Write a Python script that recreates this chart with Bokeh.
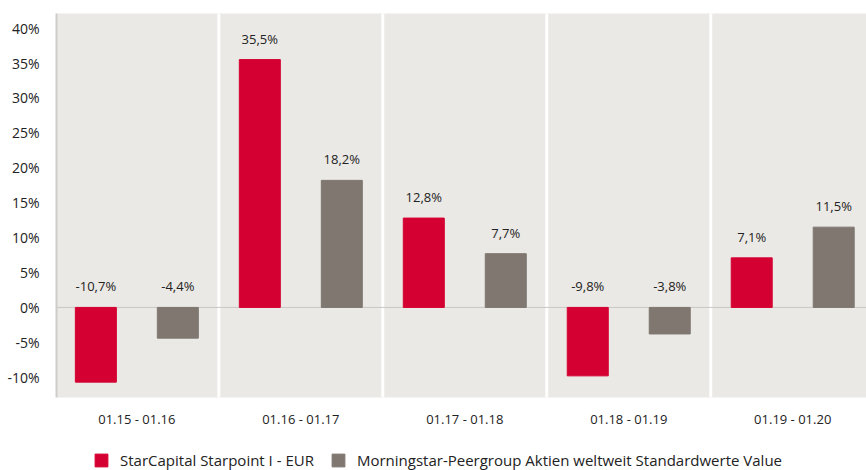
from bokeh.plotting import figure
from bokeh.layouts import column
from bokeh.models import (ColumnDataSource, FixedTicker, Span, Legend, LegendItem, Range1d)
from bokeh.core.properties import value
from bokeh.embed import file_html
from bokeh.resources import INLINE

categories = ["01.15 - 01.16", "01.16 - 01.17", "01.17 - 01.18", "01.18 - 01.19", "01.19 - 01.20"]
fund = [-10.7, 35.5, 12.8, -9.8, 7.1]
peer = [-4.4, 18.2, 7.7, -3.8, 11.5]
fund_name = "StarCapital Starpoint I - EUR"
peer_name = "Morningstar-Peergroup Aktien weltweit Standardwerte Value"
y_ticks = [-10, -5, 0, 5, 10, 15, 20, 25, 30, 35, 40]

RED = "#D50032"
GRAY = "#7F7770"
BG = "#EBE9E5"
TXT = "#222222"
FONT = "Open Sans"

idx = list(range(len(categories)))

def fmt(v):
    return ("%.1f" % v).replace(".", ",") + "%"

src_f = ColumnDataSource(dict(x=[i - 0.25 for i in idx], top=fund,
                              ly=[max(v, 0) for v in fund], lab=[fmt(v) for v in fund]))
src_p = ColumnDataSource(dict(x=[i + 0.25 for i in idx], top=peer,
                              ly=[max(v, 0) for v in peer], lab=[fmt(v) for v in peer]))

p = figure(width=866, height=440, output_backend="svg", toolbar_location=None,
           x_range=Range1d(-0.49, 4.45), y_range=Range1d(-12.9, 42.1),
           min_border_left=56, min_border_right=0, min_border_top=13, min_border_bottom=43)
p.background_fill_color = BG
p.border_fill_color = "white"
p.outline_line_color = None
p.xgrid.grid_line_color = None
p.ygrid.grid_line_color = None

for xs in [0.5, 1.5, 2.5, 3.5]:
    p.add_layout(Span(location=xs, dimension="height", line_color="white", line_width=3, level="underlay"))
p.add_layout(Span(location=0, dimension="width", line_color="#C9C7C4", line_width=1, level="underlay"))

p.vbar(x="x", top="top", bottom=0, width=0.25, source=src_f, color=RED)
p.vbar(x="x", top="top", bottom=0, width=0.25, source=src_p, color=GRAY)

for s in (src_f, src_p):
    p.text(x="x", y="ly", text="lab", source=s, y_offset=-21, text_align="center",
           text_baseline="middle", text_font=value(FONT), text_font_size="13px", text_color=TXT)

p.xaxis.ticker = FixedTicker(ticks=idx)
p.xaxis.major_label_overrides = {i: c for i, c in zip(idx, categories)}
p.xaxis.axis_line_color = None
p.xaxis.major_tick_line_color = None
p.xaxis.minor_tick_line_color = None
p.xaxis.major_label_standoff = 6
p.xaxis.major_label_text_font = FONT
p.xaxis.major_label_text_font_size = "13px"
p.xaxis.major_label_text_color = TXT

p.yaxis.ticker = FixedTicker(ticks=y_ticks)
p.yaxis.major_label_overrides = {t: "%d%%" % t for t in y_ticks}
p.yaxis.axis_line_color = "#CFCDCA"
p.yaxis.axis_line_width = 2
p.yaxis.major_tick_line_color = None
p.yaxis.minor_tick_line_color = None
p.yaxis.major_label_standoff = 11
p.yaxis.major_label_text_font = FONT
p.yaxis.major_label_text_font_size = "14px"
p.yaxis.major_label_text_color = TXT

# legend strip
lg = figure(width=866, height=30, output_backend="svg", toolbar_location=None,
            x_range=Range1d(0, 1), y_range=Range1d(0, 1),
            min_border=0, x_axis_type=None, y_axis_type=None)
lg.outline_line_color = None
lg.xgrid.grid_line_color = None
lg.ygrid.grid_line_color = None
lg.background_fill_color = "white"
g1 = lg.vbar(x="x", top="top", width=0.1, source=ColumnDataSource(dict(x=[5], top=[1])), color=RED)
g2 = lg.vbar(x="x", top="top", width=0.1, source=ColumnDataSource(dict(x=[5], top=[1])), color=GRAY)
legend = Legend(items=[LegendItem(label=fund_name, renderers=[g1]),
                       LegendItem(label=peer_name, renderers=[g2])],
                orientation="horizontal", location=(37, 0),
                border_line_alpha=0, background_fill_alpha=0, padding=0, margin=0,
                spacing=16, label_standoff=11, glyph_width=16, glyph_height=16,
                label_height=16, label_text_font=FONT, label_text_font_size="15px",
                label_text_color=TXT)
lg.add_layout(legend, "center")

layout = column(p, lg, spacing=0)
open("out.html", "w").write(file_html(layout, INLINE))
